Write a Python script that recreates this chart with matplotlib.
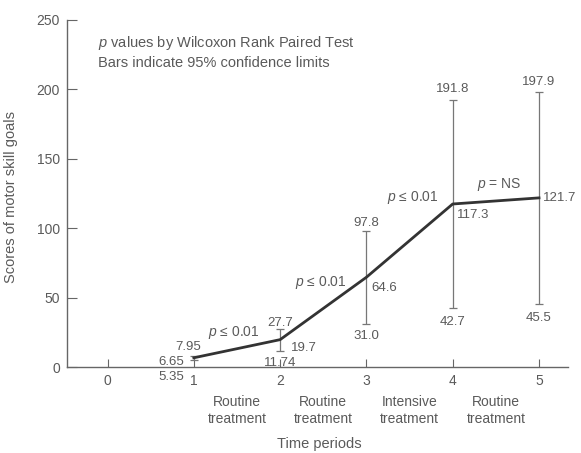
import matplotlib
matplotlib.use("Agg")
import matplotlib.pyplot as plt

# Mean scores per time period with 95% confidence limits
periods = [1, 2, 3, 4, 5]
means = [6.65, 19.7, 64.6, 117.3, 121.7]
lower = [5.35, 11.74, 31.0, 42.7, 45.5]
upper = [7.95, 27.7, 97.8, 191.8, 197.9]
mean_labels = ["6.65", "19.7", "64.6", "117.3", "121.7"]
lower_labels = ["5.35", "11.74", "31.0", "42.7", "45.5"]
upper_labels = ["7.95", "27.7", "97.8", "191.8", "197.9"]

x_ticks = [0, 1, 2, 3, 4, 5]
y_ticks = [0, 50, 100, 150, 200, 250]
phase_pos = [1.5, 2.5, 3.5, 4.5]
phase_names = ["Routine\ntreatment", "Routine\ntreatment",
               "Intensive\ntreatment", "Routine\ntreatment"]
p_texts = ["$p$ ≤ 0.01", "$p$ ≤ 0.01", "$p$ ≤ 0.01", "$p$ = NS"]
p_pos = [(1.46, 24.5), (2.47, 60.5), (3.54, 122.0), (4.54, 131.0)]

TXT = "#5a5a5a"
AX = "#666666"
plt.rcParams["font.family"] = ["Liberation Sans", "DejaVu Sans"]
plt.rcParams["mathtext.fontset"] = "custom"
plt.rcParams["mathtext.it"] = "Liberation Sans:italic"
plt.rcParams["mathtext.rm"] = "Liberation Sans"

fig = plt.figure(figsize=(5.81, 4.53), dpi=100)
ax = fig.add_axes([0.1153, 0.1898, 0.8623, 0.767])

# error bars (confidence limits)
yerr = [[m - l for m, l in zip(means, lower)], [u - m for m, u in zip(means, upper)]]
ax.errorbar(periods, means, yerr=yerr, fmt="none", ecolor="#777777",
            elinewidth=0.9, capsize=3, capthick=0.9, zorder=2)
# trend line through the means
ax.plot(periods, means, color="#333333", lw=2.0, zorder=3)

ax.set_xlim(-0.47, 5.336)
ax.set_ylim(0, 250)
ax.spines["top"].set_visible(False)
ax.spines["right"].set_visible(False)
for s in ("left", "bottom"):
    ax.spines[s].set_color(AX)
    ax.spines[s].set_linewidth(1.0)

ax.set_xticks(x_ticks)
ax.set_yticks(y_ticks)
ax.tick_params(axis="both", direction="in", colors=AX, labelcolor=TXT,
               labelsize=10)
ax.tick_params(axis="y", length=7.5, pad=5)
ax.tick_params(axis="x", length=6, pad=5)

fs = 9.5
# value labels
off_up = [(-6, 9), (0, 6), (0, 8), (0, 11), (0, 10)]
off_mid = [(-10, -4), (11, -8), (5, -11), (4, -11), (4, 0)]
off_low = [(-10, -17), (0, -12), (0, -12), (0, -14), (0, -14)]
for i, x in enumerate(periods):
    dx, dy = off_up[i]
    ax.annotate(upper_labels[i], (x, upper[i]), xytext=(dx * 0.72, dy * 0.72),
                textcoords="offset points", ha="center", va="center",
                fontsize=fs, color=TXT)
    dx, dy = off_mid[i]
    ax.annotate(mean_labels[i], (x, means[i]), xytext=(dx * 0.72, dy * 0.72),
                textcoords="offset points", ha="right" if dx < 0 else "left",
                va="center", fontsize=fs, color=TXT)
    dx, dy = off_low[i]
    ax.annotate(lower_labels[i], (x, lower[i]), xytext=(dx * 0.72, dy * 0.72),
                textcoords="offset points", ha="right" if dx < 0 else "center",
                va="center", fontsize=fs, color=TXT)

for t, (px, py) in zip(p_texts, p_pos):
    ax.text(px, py, t, ha="center", va="center", fontsize=10, color=TXT)

ax.text(-0.105, 233, "$p$ values by Wilcoxon Rank Paired Test",
        ha="left", va="center", fontsize=10.5, color=TXT)
ax.text(-0.105, 219, "Bars indicate 95% confidence limits",
        ha="left", va="center", fontsize=10.5, color=TXT)

for px, name in zip(phase_pos, phase_names):
    ax.text(px, -0.126, name, transform=ax.get_xaxis_transform(),
            ha="center", va="center", fontsize=10, color=TXT, linespacing=1.25)

ax.set_ylabel("Scores of motor skill goals", fontsize=10.5, color=TXT)
ax.yaxis.set_label_coords(-0.098, 0.49)
ax.set_xlabel("Time periods", fontsize=10.5, color=TXT, va="center")
ax.xaxis.set_label_coords(0.503, -0.222)

fig.savefig("out.png", dpi=100, facecolor="white")
